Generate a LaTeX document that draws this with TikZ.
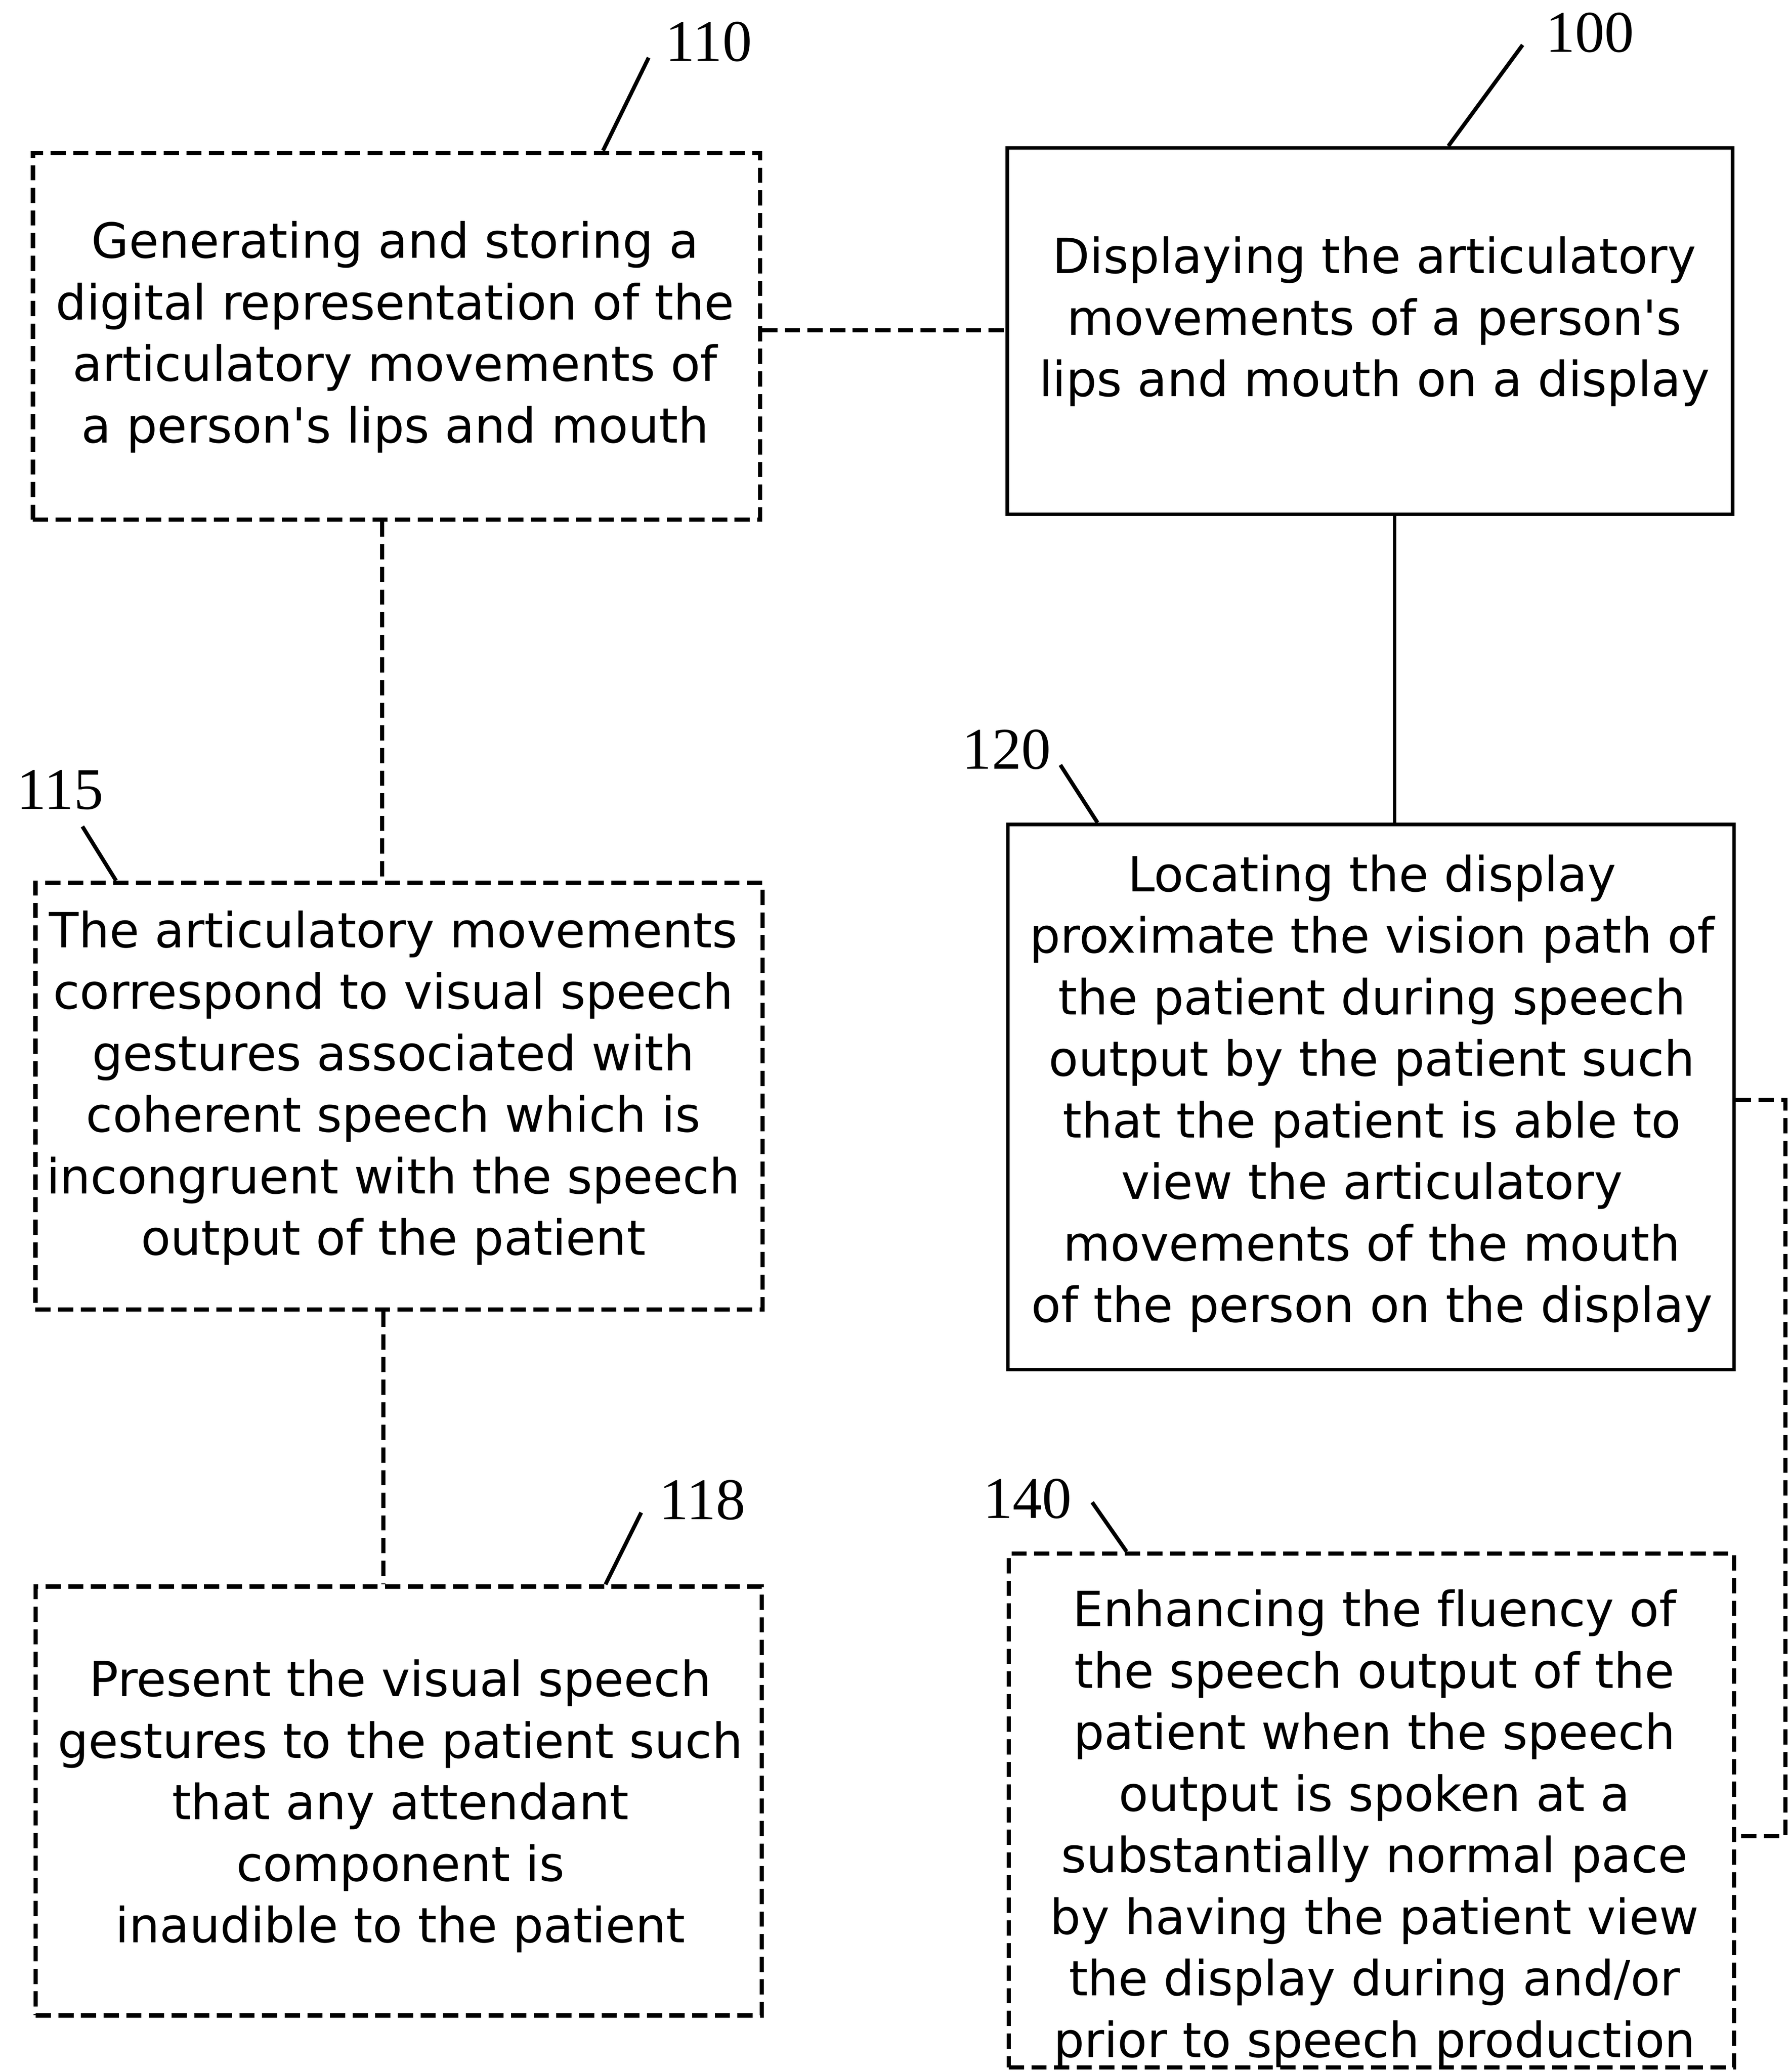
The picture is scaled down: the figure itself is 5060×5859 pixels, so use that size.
\documentclass[tikz,border=0pt]{standalone}
\usepackage{fontspec}
\newfontfamily\boxfont{DejaVu Sans}[Ligatures={TeXOff,CommonOff}]
\newfontfamily\numfont{Liberation Serif}
\begin{document}
\begin{tikzpicture}[x=0.1pt,y=-0.1pt,
  solidbox/.style={draw, line width=1pt, inner sep=0pt},
  dashbox/.style={draw, line width=1.2pt, dash pattern=on 4.3pt off 2.1pt, inner sep=0pt},
  txt/.style={align=center, font=\boxfont\fontsize{13.7pt}{17.4pt}\selectfont, inner sep=0pt},
  num/.style={font=\numfont\fontsize{16.7pt}{20pt}\selectfont, inner sep=0pt},
  leader/.style={line width=1.1pt},
  dashlink/.style={line width=1.2pt, dash pattern=on 4.3pt off 2.1pt},
  solidlink/.style={line width=1pt}]
\useasboundingbox (0,0) rectangle (5060,5859);

% boxes
\node[dashbox,  minimum width=205.6pt, minimum height=103.7pt] (n110) at (1121,950.5) {};
\node[solidbox, minimum width=205.1pt, minimum height=103.6pt] (n100) at (3873.5,936) {};
\node[dashbox,  minimum width=205.6pt, minimum height=120.7pt] (n115) at (1128,3099.5) {};
\node[solidbox, minimum width=205.3pt, minimum height=154.2pt] (n120) at (3876.5,3102) {};
\node[dashbox,  minimum width=205.3pt, minimum height=121.3pt] (n118) at (1127.5,5092.5) {};
\node[dashbox,  minimum width=205.1pt, minimum height=145.3pt] (n140) at (3877.5,5119.5) {};

% texts
\node[txt] (t110) at (1117,953) {Generating and storing a\\digital representation of the\\articulatory movements of\\a person's lips and mouth};
\node[txt] (t100) at (3886,909) {Displaying the articulatory\\movements of a person's\\lips and mouth on a display};
\node[txt] (t115) at (1112,3076) {The articulatory movements\\correspond to visual speech\\gestures associated with\\coherent speech which is\\incongruent with the speech\\output of the patient};
\node[txt] (t120) at (3879,3092) {Locating the display\\proximate the vision path of\\the patient during speech\\output by the patient such\\that the patient is able to\\view the articulatory\\movements of the mouth\\of the person on the display};
\node[txt] (t118) at (1132,5107) {Present the visual speech\\gestures to the patient such\\that any attendant\\component is\\inaudible to the patient};
\node[txt] (t140) at (3886,5170) {Enhancing the fluency of\\the speech output of the\\patient when the speech\\output is spoken at a\\substantially normal pace\\by having the patient view\\the display during and/or\\prior to speech production};

% reference numerals
\node[num] (l110) at (2004,118) {110};
\node[num] (l100) at (4495,92) {100};
\node[num] (l115) at (170,2234) {115};
\node[num] (l120) at (2846,2120) {120};
\node[num] (l118) at (1986,4242) {118};
\node[num] (l140) at (2905,4238) {140};

% leader lines
\coordinate (a110) at (1834,163);  \coordinate (b110) at (1705,0);
\coordinate (a100) at (4305,127);  \coordinate (b100) at (4095,0);
\coordinate (a115) at (233,2337);  \coordinate (b115) at (328,0);
\coordinate (a120) at (2998,2163); \coordinate (b120) at (3103,0);
\coordinate (a118) at (1813,4277); \coordinate (b118) at (1712,0);
\coordinate (a140) at (3088,4248); \coordinate (b140) at (3185,0);
\draw[leader] (a110) -- (b110 |- n110.north);
\draw[leader] (a100) -- (b100 |- n100.north);
\draw[leader] (a115) -- (b115 |- n115.north);
\draw[leader] (a120) -- (b120 |- n120.north);
\draw[leader] (a118) -- (b118 |- n118.north);
\draw[leader] (a140) -- (b140 |- n140.north);

% connectors
\coordinate (h1) at (0,934);
\coordinate (v1) at (1080,0);
\coordinate (v2) at (1084,0);
\coordinate (v3) at (3943,0);
\coordinate (r1) at (5048,3110);
\coordinate (r2) at (5048,5192);
\draw[dashlink] (n110.east |- h1) -- (n100.west |- h1);
\draw[dashlink] (n110.south -| v1) -- (n115.north -| v1);
\draw[dashlink] (n115.south -| v2) -- (n118.north -| v2);
\draw[solidlink] (n100.south -| v3) -- (n120.north -| v3);
\draw[dashlink] (n120.east |- r1) -- (r1) -- (r2) -- (n140.east |- r2);
\end{tikzpicture}
\end{document}
